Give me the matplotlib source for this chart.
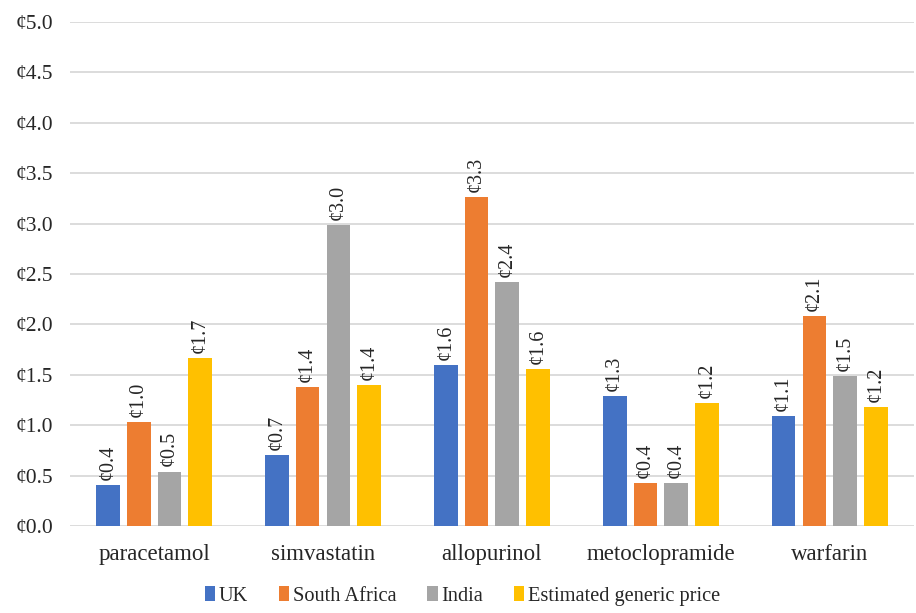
import numpy as np
import matplotlib.pyplot as plt

drugs = ["paracetamol", "simvastatin", "allopurinol", "metoclopramide", "warfarin"]
uk = [0.41, 0.70, 1.60, 1.29, 1.09]
south_africa = [1.03, 1.38, 3.26, 0.43, 2.08]
india = [0.54, 2.99, 2.42, 0.43, 1.49]
generic = [1.67, 1.40, 1.56, 1.22, 1.18]

series = [
    ("UK", uk, "#4472C4"),
    ("South Africa", south_africa, "#ED7D31"),
    ("India", india, "#A5A5A5"),
    ("Estimated generic price", generic, "#FFC000"),
]

plt.rcParams["font.family"] = ["Liberation Serif", "DejaVu Serif"]

fig = plt.figure(figsize=(9.16, 6.13), dpi=100)
ax = fig.add_axes([0.076, 0.142, 0.922, 0.822])

x = np.arange(len(drugs))
width = 0.14
step = 0.182
for i, (name, vals, color) in enumerate(series):
    pos = x + (i - 1.5) * step
    ax.bar(pos, vals, width=width, color=color, label=name, zorder=3)
    for px, v in zip(pos, vals):
        ax.text(px, v + 0.05, f"¢{v:.1f}", rotation=90, ha="center", va="bottom",
                fontsize=14.5, color="#262626")

ax.set_ylim(0, 5.0)
ax.set_xlim(-0.5, len(drugs) - 0.5)
ax.set_yticks(np.arange(0, 5.01, 0.5))
ax.set_yticklabels([f"¢{t:.1f}" for t in np.arange(0, 5.01, 0.5)])
ax.set_xticks(x)
ax.set_xticklabels(drugs)
ax.tick_params(axis="both", length=0, colors="#262626")
ax.tick_params(axis="x", pad=13, labelsize=16.5)
ax.tick_params(axis="y", pad=12, labelsize=15.5)
ax.grid(axis="y", color="#d9d9d9", linewidth=1.3, zorder=0)
for s in ax.spines.values():
    s.set_visible(False)

fig.legend(loc="lower center", bbox_to_anchor=(0.505, -0.018), ncol=4, frameon=False,
           fontsize=14.7, handlelength=0.5, handleheight=0.7, handletextpad=0.2,
           columnspacing=1.5, labelcolor="#262626")

fig.savefig("out.png", dpi=100)
